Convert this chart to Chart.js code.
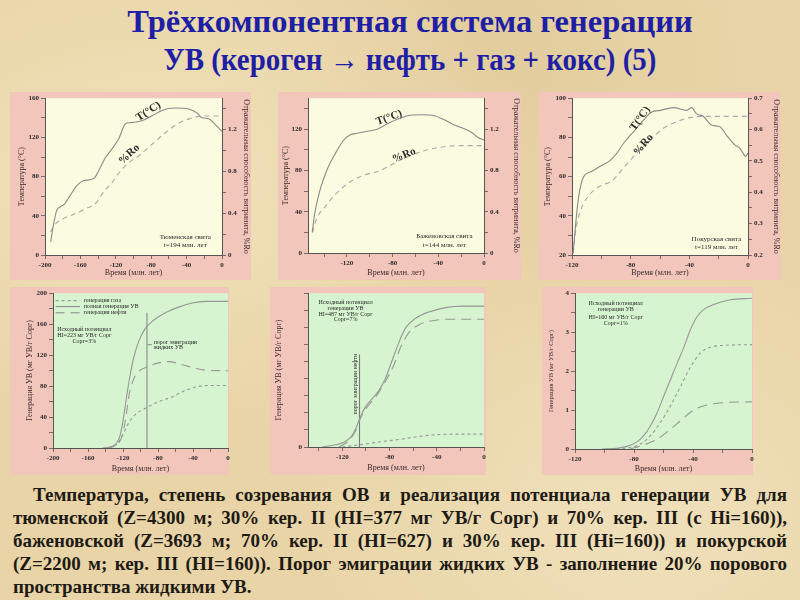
<!DOCTYPE html>
<html>
<head>
<meta charset="utf-8">
<script src="https://cdn.jsdelivr.net/npm/chart.js@4.4.0/dist/chart.umd.min.js"></script>
<style>
html, body { margin: 0; padding: 0; }
body { width: 800px; height: 600px; position: relative; overflow: hidden;
  font-family: "Liberation Serif", "DejaVu Serif", serif;
  background: #e8d4a6;
  background-image: radial-gradient(ellipse at 20% 30%, rgba(245,230,195,0.7), rgba(245,230,195,0) 45%),
                    radial-gradient(ellipse at 80% 85%, rgba(245,232,200,0.6), rgba(245,232,200,0) 40%),
                    radial-gradient(ellipse at 60% 10%, rgba(215,190,140,0.35), rgba(215,190,140,0) 40%); }
.title { position: absolute; left: 0; width: 820px; top: 2px; text-align: center;
  font-family: "Liberation Serif", "DejaVu Serif", serif; font-weight: bold; font-size: 32.5px;
  line-height: 38px; color: #1f1fa5; }
.title span { display: inline-block; transform: scaleX(0.89); }
.box { position: absolute; background: #f3c6bc; }
.cv { position: absolute; }
.para { position: absolute; left: 13px; top: 483px; width: 774px; color: #1e1a14;
  font-family: "Liberation Serif", "DejaVu Serif", serif; font-weight: bold; font-size: 19px;
  line-height: 23px; }
.para div { text-align: justify; text-align-last: justify; }
.para div.first { text-indent: 20px; }
.para div.last { text-align-last: left; }
</style>
</head>
<body>
<div class="title">Трёхкомпонентная система генерации<br><span>УВ (кероген → нефть + газ + кокс) (5)</span></div>

<div class="para">
  <div class="first">Температура, степень созревания ОВ и реализация потенциала генерации УВ для</div>
  <div>тюменской (Z=4300 м; 30% кер. II (HI=377 мг УВ/г Сорг) и 70% кер. III (с Hi=160)),</div>
  <div>баженовской (Z=3693 м; 70% кер. II (HI=627) и 30% кер. III (Hi=160)) и покурской</div>
  <div>(Z=2200 м; кер. III (HI=160)). Порог эмиграции жидких УВ - заполнение 20% порового</div>
  <div class="last">пространства жидкими УВ.</div>
</div>

<script>
// ---- тюменская свита: температура и %Ro
var tumTimeT = [-193.6, -190.6, -186.8, -183, -178, -171.7, -164, -156.6, -145, -137.7, -132, -124.5, -117, -109, -103.8, -90.6, -79, -68, -53, -37.7, -28.3, -22.6, -15, -7.5, 0];
var tumTemp = [13.5, 30, 45.5, 49, 52, 60.6, 70.7, 75.8, 78, 89, 99, 108, 118, 134, 135, 137, 142, 147.5, 150, 149, 145, 140, 139, 133, 126];
var tumTimeRo = [-193.6, -190.6, -185, -170, -154.7, -141.5, -135.8, -124.5, -115, -105.7, -94, -79, -64, -49, -34, -19, 0];
var tumRo = [0.22, 0.27, 0.32, 0.38, 0.44, 0.505, 0.58, 0.69, 0.80, 0.88, 0.95, 1.06, 1.17, 1.26, 1.31, 1.33, 1.33];

// ---- баженовская свита
var bazTimeT = [-150.3, -148, -143.5, -137.6, -130.3, -123, -117, -111, -102, -93.5, -84.7, -76, -67, -55, -43.5, -34.7, -26, -20, -11, -5.3, 0];
var bazTemp = [20, 39, 61, 80, 96, 109, 114.6, 116, 118, 120, 125, 129.5, 133, 134, 133, 129, 124, 121.6, 117, 112, 109.5];
var bazTimeRo = [-150, -146.5, -139, -129, -117, -105, -90.6, -78.8, -64, -49.4, -34.7, -20, 0];
var bazRo = [0.2, 0.33, 0.45, 0.58, 0.69, 0.755, 0.80, 0.87, 0.946, 1.0, 1.03, 1.04, 1.04];

// ---- покурская свита
var pokTimeT = [-119.2, -117.6, -115.4, -112, -107.5, -100.7, -93.9, -89.4, -84.8, -78, -71.3, -65.6, -59.9, -50.9, -41.9, -38.5, -35, -30.5, -24.9, -19.2, -14.7, -9, -5.7, -3.4, -1.6, 0];
var pokTemp = [20.8, 35, 50, 60, 62.3, 65.3, 68.3, 72, 77, 83, 88.8, 93, 93.8, 95.2, 93.8, 95.2, 92, 90.8, 86.3, 85.4, 81.2, 76.2, 74.5, 72, 70.3, 72];
var pokTimeRo = [-119.2, -117.6, -114.3, -108.6, -100.7, -92.8, -84.8, -75.8, -66.7, -57.7, -48.6, -39.6, -30.5, 0];
var pokRo = [0.205, 0.273, 0.34, 0.389, 0.42, 0.436, 0.478, 0.525, 0.567, 0.604, 0.625, 0.638, 0.642, 0.642];

// ---- генерация УВ, тюменская (HI=223)
var tgTimeTot = [-144, -132.6, -126.9, -123, -119.2, -115.4, -111.6, -107.8, -102, -94.5, -85, -71.6, -56.4, -41, -26, 0];
var tgTot = [0, 2, 7, 17.7, 40.8, 70, 95.6, 116.6, 137.7, 154.5, 165, 174.7, 182, 187.4, 189.5, 189.5];
var tgTimeOil = [-140, -128.8, -121, -116.6, -112.8, -107.8, -102, -92.6, -79, -67.8, -56.4, -41, -26, 0];
var tgOil = [0, 3, 15.6, 40.8, 70, 89, 99, 104.8, 110, 111.6, 109, 104, 100.6, 99.8];
var tgTimeGas = [-136.4, -127, -119, -113.5, -106, -94.5, -79, -64, -52.6, -37.3, -22, 0];
var tgGas = [0, 5, 19.8, 32.4, 43, 51.4, 60, 66, 72.4, 78.7, 80.8, 80.8];
var tgThreshold = [-92.6, 0, 174.7];   // время, низ, верх

// ---- генерация УВ, баженовская (HI=487)
var bgTimeTot = [-137, -125.7, -118.6, -113, -108.8, -104.5, -100.3, -94.6, -89, -83.3, -77.7, -72, -66.4, -58, -46.6, -32.5, -18.4, 0];
var bgTot = [0, 6.6, 14, 28, 52, 90, 118, 142, 165.6, 203, 255, 307.5, 350, 378, 397, 409.6, 414, 414];
var bgTimeOil = [-122.9, -114.4, -108.8, -104.5, -98.9, -91.8, -83.3, -76.3, -70.6, -63.6, -55, -43.8, -29.7, 0];
var bgOil = [0, 19, 47, 85, 118, 146.6, 194, 241, 293, 336, 359.5, 371, 375.6, 375.6];
var bgTimeGas = [-120, -103, -86, -69, -55, -41, -24, 0];
var bgGas = [0, 7.6, 16, 23.7, 31, 36, 37.8, 37.8];
var bgThreshold = [-105.4, 0, 271.5];

// ---- генерация УВ, покурская (HI=160)
var pgTimeTot = [-101.9, -91.7, -84.9, -78, -73.6, -69, -64.5, -60, -55.5, -51, -46.4, -41.9, -37.4, -32.8, -26, -14.7, 0];
var pgTot = [0, 0.017, 0.067, 0.184, 0.335, 0.586, 0.92, 1.34, 1.76, 2.18, 2.59, 3.05, 3.39, 3.58, 3.71, 3.83, 3.87];
var pgTimeGas = [-96, -82.6, -75.8, -69, -62.3, -55.5, -48.7, -41.9, -35, -28.3, -19.2, 0];
var pgGas = [0, 0.04, 0.125, 0.335, 0.67, 1.09, 1.59, 2.09, 2.47, 2.61, 2.66, 2.68];
var pgTimeOil = [-82.6, -73.6, -64.5, -55.5, -46.4, -39.6, -30.6, -19.2, 0];
var pgOil = [0, 0.1, 0.25, 0.5, 0.795, 1.0, 1.13, 1.19, 1.21];

var xTitle = 'Время (млн. лет)';
var tempTitle = 'Температура (°C)';
var roTitle = 'Отражательная способность витринита, %Ro';
var genTitle = 'Генерация УВ (мг УВ/г Сорг)';

var FAM = "'Liberation Serif', serif";
var TICK_FONT = { family: FAM, size: 7, weight: 'bold' };
var TITLE_FONT = { family: FAM, size: 8 };

function pts(xs, ys) {
    return xs.map(function(x, i) { return { x: x, y: ys[i] }; });
}

function ticks(step, labelStep, digits) {
    return {
        stepSize: step, autoSkip: false, maxRotation: 0, includeBounds: false,
        color: '#2a2a2a', font: TICK_FONT, padding: 2,
        callback: function(v) {
            var k = v / labelStep;
            if (Math.abs(k - Math.round(k)) > 1e-6) return '';
            if (v === 0) return '0';
            return digits ? v.toFixed(digits) : String(Math.round(v));
        }
    };
}

function axisGrid() {
    return { display: true, drawOnChartArea: false, drawTicks: true, tickLength: 4, color: '#555', lineWidth: 0.8 };
}

function line(data, color, dash, axis) {
    return {
        data: data, borderColor: color, borderWidth: 1.1, borderDash: dash || [],
        pointRadius: 0, fill: false, cubicInterpolationMode: 'monotone', yAxisID: axis || 'y'
    };
}

function notesPlugin(list, plotColor) {
    return {
        id: 'notes',
        beforeDraw: function(chart) {
            var a = chart.chartArea, ctx = chart.ctx;
            ctx.save();
            ctx.fillStyle = plotColor;
            ctx.fillRect(a.left, a.top, a.right - a.left, a.bottom - a.top);
            ctx.restore();
        },
        afterDatasetsDraw: function(chart) {
            var ctx = chart.ctx, xs = chart.scales.x;
            list.forEach(function(n) {
                var ys = chart.scales[n.axis || 'y'];
                ctx.save();
                if (n.sample) {
                    ctx.strokeStyle = '#8a8a8a';
                    ctx.lineWidth = 1;
                    ctx.setLineDash(n.sample);
                    ctx.beginPath();
                    ctx.moveTo(xs.getPixelForValue(n.x), ys.getPixelForValue(n.y));
                    ctx.lineTo(xs.getPixelForValue(n.x2), ys.getPixelForValue(n.y));
                    ctx.stroke();
                } else {
                    ctx.translate(xs.getPixelForValue(n.x), ys.getPixelForValue(n.y));
                    ctx.rotate((n.rot || 0) * Math.PI / 180);
                    ctx.font = n.font;
                    ctx.fillStyle = n.color || '#2a2a2a';
                    ctx.textAlign = n.align || 'center';
                    ctx.textBaseline = 'middle';
                    ctx.fillText(n.text, 0, 0);
                }
                ctx.restore();
            });
        }
    };
}

function makePanel(p) {
    var box = document.createElement('div');
    box.className = 'box';
    box.style.left = p.box[0] + 'px'; box.style.top = p.box[1] + 'px';
    box.style.width = p.box[2] + 'px'; box.style.height = p.box[3] + 'px';
    document.body.appendChild(box);

    var cw = p.box[2] + (p.extra || 0);
    var holder = document.createElement('div');
    holder.className = 'cv';
    holder.style.left = p.box[0] + 'px'; holder.style.top = p.box[1] + 'px';
    holder.style.width = cw + 'px'; holder.style.height = p.box[3] + 'px';
    var cv = document.createElement('canvas');
    holder.appendChild(cv);
    document.body.appendChild(holder);

    var leftW = p.plot[0] - p.box[0];
    var topPad = p.plot[1] - p.box[1];
    var rightW = p.box[0] + cw - p.plot[2];
    var botH = p.box[1] + p.box[3] - p.plot[3];

    var scales = {
        x: {
            type: 'linear', min: p.x[0], max: p.x[1],
            ticks: ticks(p.x[2], p.x[3]), grid: axisGrid(),
            border: { display: true, color: '#555', width: 1 },
            title: { display: true, text: xTitle, font: TITLE_FONT, color: '#3a2a2a', padding: { top: 0, bottom: p.xTitlePad } },
            afterFit: function(s) { s.height = botH; }
        },
        y: {
            type: 'linear', position: 'left', min: p.y[0], max: p.y[1],
            ticks: ticks(p.y[2], p.y[3], p.y[4]), grid: axisGrid(),
            border: { display: true, color: '#555', width: 1 },
            title: { display: true, text: p.yTitle, font: { family: FAM, size: p.yTitleSize || 8 }, color: '#3a2a2a', padding: { top: p.yTitlePad, bottom: 0 } },
            afterFit: function(s) { s.width = leftW; }
        }
    };
    if (p.y2) {
        scales.y2 = {
            type: 'linear', position: 'right', min: p.y2[0], max: p.y2[1],
            ticks: ticks(p.y2[2], p.y2[3], p.y2[4]), grid: axisGrid(),
            border: { display: true, color: '#555', width: 1 },
            title: { display: true, text: roTitle, font: TITLE_FONT, color: '#3a2a2a', padding: { top: 0, bottom: 0 } },
            afterFit: function(s) { s.width = rightW; }
        };
    }

    new Chart(cv, {
        type: 'line',
        data: { datasets: p.datasets },
        options: {
            responsive: true, maintainAspectRatio: false, animation: false,
            layout: { padding: { top: topPad, left: 0, bottom: 0, right: p.y2 ? 0 : rightW } },
            plugins: { legend: { display: false }, tooltip: { enabled: false } },
            scales: scales
        },
        plugins: [notesPlugin(p.notes, p.plotColor)]
    });
}

var TOP_BG = '#fbfbe0';
var BOT_BG = '#d6f4cf';
var T_COL = '#8a8a8a';
var RO_COL = '#a9a9a9';
var G_COL = '#979797';
var BIG = 'bold 11px ' + FAM;
var SMALL = '7px ' + FAM;
var TINY = '6px ' + FAM;

// верхний ряд
makePanel({
    box: [10, 92, 241, 188], plot: [45, 97, 222, 255], plotColor: TOP_BG,
    x: [-200, 0, 20, 40], y: [0, 160, 20, 40], y2: [0, 1.5, 0.2, 0.4, 1],
    yTitle: tempTitle, yTitlePad: 7, xTitlePad: 2,
    datasets: [
        line(pts(tumTimeT, tumTemp), T_COL),
        line(pts(tumTimeRo, tumRo), RO_COL, [5, 4], 'y2')
    ],
    notes: [
        { x: -83, y: 146.5, text: 'T(°C)', rot: -33, font: BIG },
        { x: -105, y: 102.7, text: '%Ro', rot: -42, font: BIG },
        { x: -41.5, y: 18.5, text: 'Тюменская свита', font: SMALL },
        { x: -41.5, y: 10, text: 't=194 млн. лет', font: SMALL }
    ]
});

makePanel({
    box: [278, 92, 243, 188], plot: [308, 95, 484, 253], plotColor: TOP_BG,
    x: [-154, 0, 20, 40], y: [0, 150, 20, 40], y2: [0, 1.5, 0.2, 0.4, 1],
    yTitle: tempTitle, yTitlePad: 3, xTitlePad: 2,
    datasets: [
        line(pts(bazTimeT, bazTemp), T_COL),
        line(pts(bazTimeRo, bazRo), RO_COL, [5, 4], 'y2')
    ],
    notes: [
        { x: -83, y: 131, text: 'T(°C)', rot: -20, font: BIG },
        { x: -70, y: 94.6, text: '%Ro', rot: -22, font: BIG },
        { x: -34.7, y: 16.8, text: 'Баженовская свита', font: SMALL },
        { x: -34.7, y: 7.9, text: 't=144 млн. лет', font: SMALL }
    ]
});

makePanel({
    box: [538, 92, 243, 188], plot: [572, 96, 748, 255], plotColor: TOP_BG,
    x: [-120, 0, 20, 40], y: [20, 100, 10, 20], y2: [0.2, 0.7, 0.05, 0.1, 1],
    yTitle: tempTitle, yTitlePad: 5, xTitlePad: 2,
    datasets: [
        line(pts(pokTimeT, pokTemp), T_COL),
        line(pts(pokTimeRo, pokRo), RO_COL, [5, 4], 'y2')
    ],
    notes: [
        { x: -73.5, y: 89.6, text: 'T(°C)', rot: -55, font: BIG },
        { x: -71.3, y: 76.2, text: '%Ro', rot: -50, font: BIG },
        { x: -21.5, y: 28, text: 'Покурская свита', font: SMALL },
        { x: -21.5, y: 24.2, text: 't=119 млн. лет', font: SMALL }
    ]
});

// нижний ряд
makePanel({
    box: [10, 287, 219, 188], extra: 12, plot: [53, 289, 228, 448], plotColor: BOT_BG,
    x: [-200, 0, 20, 40], y: [0, 200, 20, 40],
    yTitle: genTitle, yTitlePad: 15, xTitlePad: 1,
    datasets: [
        line(pts(tgTimeGas, tgGas), G_COL, [3, 3]),
        line(pts(tgTimeTot, tgTot), G_COL),
        line(pts(tgTimeOil, tgOil), G_COL, [9, 6]),
        line(pts([tgThreshold[0], tgThreshold[0]], [tgThreshold[1], tgThreshold[2]]), '#8a8a8a')
    ],
    notes: [
        { sample: [3, 3], x: -197, x2: -169, y: 190.3 },
        { sample: [], x: -197, x2: -169, y: 182.7 },
        { sample: [9, 6], x: -197, x2: -169, y: 174.7 },
        { x: -165, y: 190.3, text: 'генерация газа', font: TINY, align: 'left' },
        { x: -165, y: 182.7, text: 'полная генерация УВ', font: TINY, align: 'left' },
        { x: -165, y: 174.7, text: 'генерация нефти', font: TINY, align: 'left' },
        { x: -164.2, y: 153.7, text: 'Исходный потенциал', font: TINY },
        { x: -164.2, y: 146, text: 'HI=223 мг УВ/г Сорг', font: TINY },
        { x: -164.2, y: 137.7, text: 'Сорг=3%', font: TINY },
        { sample: [], x: -91.8, x2: -87, y: 133.5 },
        { x: -85, y: 136.8, text: 'порог эмиграции', font: TINY, align: 'left' },
        { x: -85, y: 130, text: 'жидких УВ', font: TINY, align: 'left' }
    ]
});

makePanel({
    box: [270, 287, 216, 188], extra: 12, plot: [308, 288, 484, 447], plotColor: BOT_BG,
    x: [-149, 0, 20, 40], y: [0, 452, 50, 100],
    yTitle: genTitle, yTitlePad: 4, xTitlePad: 2,
    datasets: [
        line(pts(bgTimeGas, bgGas), G_COL, [3, 3]),
        line(pts(bgTimeTot, bgTot), G_COL),
        line(pts(bgTimeOil, bgOil), G_COL, [10, 6]),
        line(pts([bgThreshold[0], bgThreshold[0]], [bgThreshold[1], bgThreshold[2]]), '#7a7a7a')
    ],
    notes: [
        { x: -117.2, y: 425.7, text: 'Исходный потенциал', font: TINY },
        { x: -117.2, y: 408.7, text: 'генерации УВ', font: TINY },
        { x: -117.2, y: 390.7, text: 'HI=487 мг УВ/г Сорг', font: TINY },
        { x: -117.2, y: 373.7, text: 'Сорг=7%', font: TINY },
        { x: -109, y: 184.5, text: 'порог эмиграции нефти', font: TINY, rot: -90 }
    ]
});

makePanel({
    box: [542, 287, 211, 188], extra: 12, plot: [575, 289, 752, 449], plotColor: BOT_BG,
    x: [-120, 0, 20, 40], y: [0, 4, 0.5, 1],
    yTitle: genTitle, yTitleSize: 6.5, yTitlePad: 5, xTitlePad: 1,
    datasets: [
        line(pts(pgTimeGas, pgGas), G_COL, [3, 3]),
        line(pts(pgTimeTot, pgTot), G_COL),
        line(pts(pgTimeOil, pgOil), G_COL, [10, 6])
    ],
    notes: [
        { x: -92.4, y: 3.75, text: 'Исходный потенциал', font: TINY },
        { x: -92.4, y: 3.58, text: 'генерации УВ', font: TINY },
        { x: -92.4, y: 3.39, text: 'HI=160 мг УВ/г Сорг', font: TINY },
        { x: -92.4, y: 3.22, text: 'Сорг=1%', font: TINY }
    ]
});
</script>
</body>
</html>
